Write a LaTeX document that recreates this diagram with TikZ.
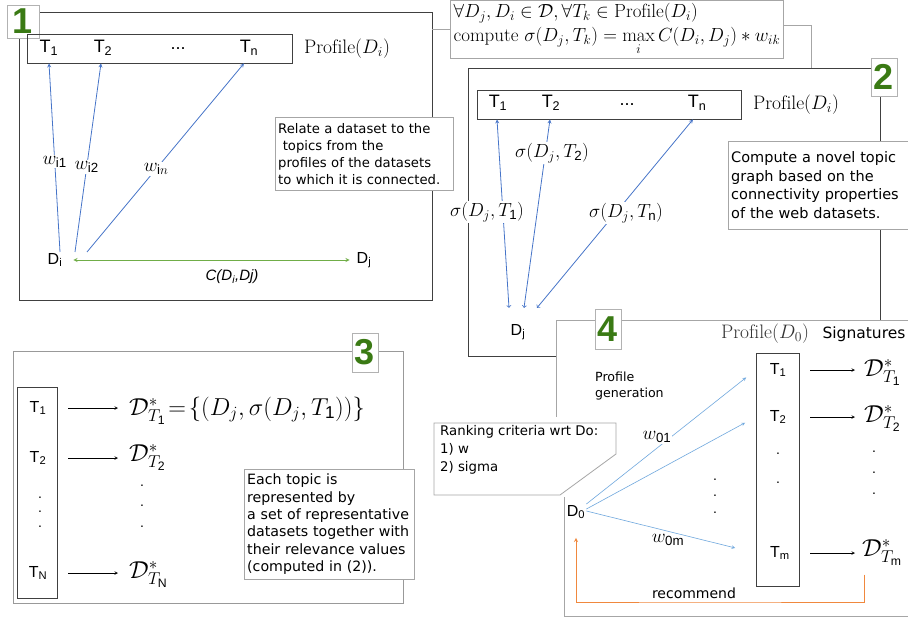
\RequirePackage{fix-cm}
\documentclass[tikz,border=0pt]{standalone}
\usepackage{amsmath}
\usepackage{amssymb}
\usepackage{fontspec}
\setsansfont{Liberation Sans}
\newfontfamily\notefont{DejaVu Sans}
\usepackage{tikz}
\usetikzlibrary{shapes.geometric, arrows, positioning}
\definecolor{numgreen}{RGB}{58,122,20}
\definecolor{lineblue}{RGB}{70,116,200}
\definecolor{lightblue}{RGB}{112,168,222}
\definecolor{linegreen}{RGB}{112,173,71}
\definecolor{lineorange}{RGB}{240,136,62}
\tikzstyle{panel} = [rectangle, draw=black!75, line width=0.8pt]
\tikzstyle{profbox} = [rectangle, draw=black!75, line width=0.8pt]
\tikzstyle{numbox} = [rectangle, draw=black!30, fill=white, inner sep=0pt, text=numgreen, font=\sffamily\bfseries\fontsize{36}{36}\selectfont]
\tikzstyle{note} = [rectangle, draw=black!35, fill=white, align=left, inner sep=3pt]
\tikzstyle{toplabel} = [inner sep=1pt, font=\sffamily\fontsize{18}{20}\selectfont]
\tikzstyle{smalltop} = [inner sep=1pt, font=\sffamily\fontsize{16}{18}\selectfont]
\tikzstyle{mathlabel} = [inner sep=1pt, font=\fontsize{19.5}{22}\selectfont]
\tikzstyle{biglabel} = [inner sep=0pt, font=\fontsize{24.5}{28}\selectfont]
\tikzstyle{wlabel} = [inner sep=1pt, fill=white, font=\fontsize{19}{22}\selectfont]
\tikzstyle{arrow} = [semithick,->,>=stealth]
\tikzstyle{barrow} = [->,>=stealth, draw=lineblue, line width=0.8pt]
\tikzstyle{barrowtwo} = [stealth-to, draw=lineblue, line width=0.8pt]
\tikzstyle{larrow} = [->,>=stealth, draw=lightblue, line width=0.6pt]
\tikzstyle{garrow} = [<->,>=stealth, draw=linegreen, line width=0.8pt]
\tikzstyle{oarrow} = [->,>=stealth, draw=lineorange, line width=0.8pt]
\tikzstyle{thinline} = [draw=black!35, line width=0.6pt]

\begin{document}
\begin{tikzpicture}[x=1pt, y=-1pt]
	\useasboundingbox (0,0) rectangle (908,619);

	% panel 1
	\node(frame1) [panel, minimum width=413pt, minimum height=288pt] at (225.5,156) {};
	\node(num1) [numbox, minimum width=32pt, minimum height=33pt] at (23,21.5) {1};
	\node(prof1) [profbox, minimum width=265pt, minimum height=29pt] at (159.5,48.5) {};
	\node(t11) [toplabel] at (49,48) {T\textsubscript{1}};
	\node(t12) [toplabel] at (103,48) {T\textsubscript{2}};
	\node(dots1) [toplabel] at (178,49) {...};
	\node(t1n) [toplabel] at (249,48) {T\textsubscript{n}};
	\node(profname1) [mathlabel] at (347,49) {$\mathrm{Profile}(D_i)$};
	\node(di) [smalltop] at (55,260) {D\textsubscript{i}};
	\node(dj) [smalltop] at (364,260) {D\textsubscript{j}};
	\node(cij) [inner sep=1pt, font=\sffamily\itshape\fontsize{15}{18}\selectfont] at (232,277) {C(D\textsubscript{i},Dj)};
	\node(note1) [note, anchor=north west, text width=172pt, minimum height=73pt, font=\notefont\fontsize{13.2}{17}\selectfont] at (275,117) {Relate a dataset to the\\\hspace*{0.35em}topics from the\\profiles of the datasets\\to which it is connected.};

	\draw[barrow] ([xshift=5pt]di.north) -- node[wlabel, pos=0.48] {$w_{\mathsf{i1}}$} (t11 |- prof1.south);
	\draw[barrow] ([xshift=20pt]di.north) -- node[wlabel, pos=0.45] {$w_{\mathsf{i2}}$} ([xshift=-2pt]t12 |- prof1.south);
	\draw[barrow] ([xshift=32pt]di.north) -- node[wlabel, pos=0.44] {$w_{\mathsf{i}n}$} ([xshift=-5pt]t1n |- prof1.south);
	\draw[garrow, shorten <=10pt, shorten >=6pt] (di) -- (dj);

	% formula
	\node(formula) [rectangle, draw=black!35, fill=white, align=left, anchor=north, inner sep=3pt, minimum width=326pt, font=\fontsize{19}{24}\selectfont] at (617,0) {$\forall D_j, D_i \in \mathcal{D}, \forall T_k \in \mathrm{Profile}(D_i)$\\compute $\sigma(D_j,T_k) = \max\limits_i C(D_i,D_j) * w_{ik}$};
	\draw[thinline] (formula.west) -- (formula.west -| frame1.east);

	% panel 2
	\node(frame2) [panel, minimum width=412pt, minimum height=288pt] at (674,212) {};
	\draw[thinline] ([yshift=4pt]formula.east) -| ([xshift=137pt]frame2.north);
	\node(num2) [numbox, minimum width=26pt, minimum height=38pt] at (884,77) {2};
	\node(prof2) [profbox, minimum width=264pt, minimum height=29pt] at (609,104.5) {};
	\node(t21) [toplabel] at (498,103) {T\textsubscript{1}};
	\node(t22) [toplabel] at (551,103) {T\textsubscript{2}};
	\node(dots2) [toplabel] at (627,105) {...};
	\node(t2n) [toplabel] at (697,103) {T\textsubscript{n}};
	\node(profname2) [mathlabel] at (796,105) {$\mathrm{Profile}(D_i)$};
	\node(dj2) [smalltop] at (518,332) {D\textsubscript{j}};

	\draw[barrowtwo] ([xshift=-1pt]t21 |- prof2.south) -- ([xshift=-9pt, yshift=15pt]dj2.north);
	\draw[barrowtwo] ([xshift=-1pt]t22 |- prof2.south) -- ([xshift=6pt, yshift=15pt]dj2.north);
	\draw[barrowtwo] ([xshift=-4pt]t2n |- prof2.south) -- ([xshift=19pt, yshift=15pt]dj2.north);
	\node(sig1) [wlabel] at (487,212) {$\sigma(D_j,T_{\mathsf{1}})$};
	\node(sig2) [wlabel] at (552,153) {$\sigma(D_j,T_{\mathsf{2}})$};
	\node(sign) [wlabel] at (626,213) {$\sigma(D_j,T_{\mathsf{n}})$};
	\node(note2) [note, anchor=north west, text width=180pt, minimum height=88pt, font=\notefont\fontsize{14.5}{18.5}\selectfont] at (728,141) {Compute a novel topic\\graph based on the\\connectivity properties\\of the web datasets.};

	% panel 3
	\node(frame3) [panel, draw=black!40, minimum width=390pt, minimum height=252pt] at (208,477) {};
	\node(num3) [numbox, minimum width=26pt, minimum height=39pt] at (365,352.5) {3};
	\node(box3) [profbox, minimum width=40pt, minimum height=211pt] at (37,492.5) {};
	\node(t31) [smalltop] at (38,408) {T\textsubscript{1}};
	\node(t32) [smalltop] at (38,458) {T\textsubscript{2}};
	\node(vdots3) [align=center, inner sep=0pt, font=\sffamily\fontsize{14}{14.5}\selectfont] at (40,512) {.\\.\\.};
	\node(t3n) [smalltop] at (38,573) {T\textsubscript{N}};
	\node(d31) [biglabel, anchor=base west] at (129,415) {$\mathcal{D}^{*}_{T_{\mathsf{1}}}\!=\!\{(D_j,\sigma(D_j,T_{\mathsf{1}}))\}$};
	\node(d32) [biglabel, anchor=base west] at (129,461) {$\mathcal{D}^{*}_{T_{\mathsf{2}}}$};
	\node(d3n) [biglabel, anchor=base west] at (129,578) {$\mathcal{D}^{*}_{T_{\mathsf{N}}}$};
	\node(vdots3b) [align=center, inner sep=0pt, font=\sffamily\fontsize{14}{20.5}\selectfont] at (142,506) {.\\.\\.};
	\draw[arrow, shorten <=11pt, shorten >=11pt] (t31 -| box3.east) -- (t31 -| d31.west);
	\draw[arrow, shorten <=11pt, shorten >=11pt] (t32 -| box3.east) -- (t32 -| d32.west);
	\draw[arrow, shorten <=11pt, shorten >=11pt] (t3n -| box3.east) -- (t3n -| d3n.west);
	\node(note3) [note, anchor=north west, text width=164pt, minimum height=110pt, font=\notefont\fontsize{14.2}{17.3}\selectfont] at (244,469) {Each topic is\\represented by\\a set of representative\\datasets together with\\their relevance values\\(computed in (2)).};

	% panel 4
	\fill[white] (556,320) rectangle (910,619);
	\draw[panel, draw=black!35] (908,320) -- (556,320) -- (556,417);
	\draw[panel, draw=black!35] (564,497) -- (564,616) -- (908,616);
	\node(num4) [numbox, minimum width=26pt, minimum height=40pt] at (608,329) {4};
	\draw[draw=black!35, fill=white, line width=0.8pt] (434,423) -- (616,423) -- (616,454) -- (560,495) -- (434,495) -- cycle;
	\node(rank) [anchor=north west, align=left, inner sep=0pt, font=\notefont\fontsize{13.3}{18}\selectfont] at (440,425) {Ranking criteria wrt Do:\\1) w\\2) sigma};
	\node(gen) [anchor=west, align=left, inner sep=0pt, font=\notefont\fontsize{12.6}{16}\selectfont] at (595,386) {Profile\\generation};
	\node(profname4) [mathlabel, text=black!80] at (765,334) {$\mathrm{Profile}(D_0)$};
	\node(sigs) [inner sep=1pt, font=\notefont\fontsize{15.5}{17}\selectfont] at (864,334) {Signatures};
	\node(box4) [profbox, minimum width=43pt, minimum height=233pt] at (777.5,469.5) {};
	\node(t41) [smalltop] at (778,370) {T\textsubscript{1}};
	\node(t42) [smalltop] at (778,417) {T\textsubscript{2}};
	\node(vdots4) [align=center, inner sep=0pt, font=\sffamily\fontsize{14}{29}\selectfont] at (778,468) {.\\.};
	\node(t4m) [smalltop] at (780,553) {T\textsubscript{m}};
	\node(d41) [biglabel, anchor=base west] at (864,376) {$\mathcal{D}^{*}_{T_{\mathsf{1}}}$};
	\node(d42) [biglabel, anchor=base west] at (864,422) {$\mathcal{D}^{*}_{T_{\mathsf{2}}}$};
	\node(d4m) [biglabel, anchor=base west] at (862,556) {$\mathcal{D}^{*}_{T_{\mathsf{m}}}$};
	\node(vdots4b) [align=center, inner sep=0pt, font=\sffamily\fontsize{14}{21}\selectfont] at (874,473) {.\\.\\.};
	\draw[arrow, shorten <=11pt, shorten >=9pt] (t41 -| box4.east) -- (t41 -| d41.west);
	\draw[arrow, shorten <=11pt, shorten >=9pt] (t42 -| box4.east) -- (t42 -| d42.west);
	\draw[arrow, shorten <=11pt, shorten >=7pt] (t4m -| box4.east) -- (t4m -| d4m.west);

	\node(d0) [smalltop] at (576,512) {D\textsubscript{0}};
	\draw[larrow, shorten >=12pt] (d0.north east) -- (t41 -| box4.west);
	\draw[larrow, shorten >=12pt] ([yshift=-5pt]d0.north east) -- (t42 -| box4.west);
	\draw[larrow, shorten >=21pt] ([yshift=1pt]d0.east) -- (t4m -| box4.west);
	\node(w01) [wlabel] at (657,437) {$w_{\mathsf{01}}$};
	\node(w0m) [wlabel, fill=none] at (668,540) {$w_{\mathsf{0m}}$};
	\node(vdots4c) [align=center, inner sep=0pt, font=\sffamily\fontsize{14}{16.5}\selectfont] at (715,496) {.\\.\\.};

	\coordinate(recbend) at (700,602);
	\draw[oarrow, shorten >=18pt] ([xshift=-18pt, yshift=-9pt]d4m.south) |- (recbend) -| (d0.south);
	\node(rec) [inner sep=1pt, font=\notefont\fontsize{14}{16}\selectfont] at (694,593) {recommend};
\end{tikzpicture}
\end{document}
